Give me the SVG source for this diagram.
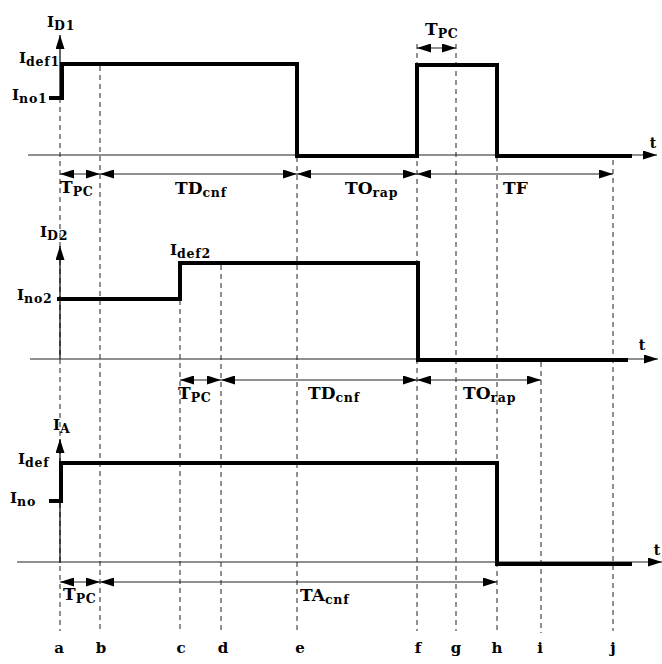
<svg xmlns="http://www.w3.org/2000/svg" width="662" height="664" viewBox="0 0 662 664">
<style>
  .lbl{font-family:"DejaVu Serif","Liberation Serif",serif;font-weight:bold;fill:#000}
  .big{font-size:17px}
  .mid{font-size:15px}
  .sub{font-size:12.5px;letter-spacing:0.8px}
  .tl{font-size:14px}
  .axis{stroke:#000;stroke-width:1.2;fill:none}
  .base{stroke:#222;stroke-width:1.1;fill:none}
  .wave{stroke:#000;stroke-width:4;fill:none;stroke-linejoin:miter;stroke-linecap:butt}
  .dash{stroke:#222;stroke-width:1;stroke-dasharray:5 4;fill:none}
  .dim{stroke:#222;stroke-width:1.1;fill:none;marker-start:url(#ah);marker-end:url(#ah)}
</style>
<defs>
  <marker id="ah" viewBox="0 0 14 9" refX="14" refY="4.5" markerWidth="14" markerHeight="9" markerUnits="userSpaceOnUse" orient="auto-start-reverse">
    <path d="M0,0 L14,4.5 L0,9 Z" fill="#000"/>
  </marker>
  <marker id="ax" viewBox="0 0 14 9" refX="14" refY="4.5" markerWidth="14" markerHeight="9" markerUnits="userSpaceOnUse" orient="auto">
    <path d="M0,0 L14,4.5 L0,9 Z" fill="#000"/>
  </marker>
</defs>

<g id="guides">
  <line class="dash" x1="60" y1="98" x2="60" y2="631"/>
  <line class="dash" x1="100" y1="66" x2="100" y2="631"/>
  <line class="dash" x1="180" y1="300" x2="180" y2="631"/>
  <line class="dash" x1="221" y1="265" x2="221" y2="631"/>
  <line class="dash" x1="297" y1="157" x2="297" y2="631"/>
  <line class="dash" x1="417" y1="44" x2="417" y2="631"/>
  <line class="dash" x1="456" y1="44" x2="456" y2="631"/>
  <line class="dash" x1="497" y1="157" x2="497" y2="631"/>
  <line class="dash" x1="541" y1="362" x2="541" y2="633"/>
  <line class="dash" x1="613" y1="160" x2="613" y2="631"/>
</g>

<g id="panel-ID1">
  <line class="axis" x1="60" y1="98" x2="60" y2="35" marker-end="url(#ax)"/>
  <line class="base" x1="28" y1="155" x2="657" y2="155" marker-end="url(#ax)"/>
  <path class="wave" d="M49,98 H62 V64 H297 V156 H417 V65 H497 V156 H632"/>
  <text class="lbl mid" x="47" y="27">I<tspan class="sub" dy="3">D1</tspan></text>
  <text class="lbl mid" x="19" y="63">I<tspan class="sub" dy="3">def1</tspan></text>
  <text class="lbl mid" x="12" y="100">I<tspan class="sub" dy="3">no1</tspan></text>
  <text class="lbl tl" x="653" y="148" text-anchor="middle">t</text>
</g>

<g id="panel-ID2">
  <line class="axis" x1="60" y1="359" x2="60" y2="246" marker-end="url(#ax)"/>
  <line class="base" x1="30" y1="359" x2="658" y2="359" marker-end="url(#ax)"/>
  <path class="wave" d="M57,299 H180 V263 H418 V360 H628"/>
  <text class="lbl mid" x="40" y="237">I<tspan class="sub" dy="3">D2</tspan></text>
  <text class="lbl mid" x="170" y="255">I<tspan class="sub" dy="3">def2</tspan></text>
  <text class="lbl mid" x="17" y="300">I<tspan class="sub" dy="3">no2</tspan></text>
  <text class="lbl tl" x="642" y="350" text-anchor="middle">t</text>
</g>

<g id="panel-IA">
  <line class="axis" x1="60" y1="563" x2="60" y2="439" marker-end="url(#ax)"/>
  <line class="base" x1="17" y1="562" x2="662" y2="562" marker-end="url(#ax)"/>
  <path class="wave" d="M49,501 H61 V463 H497 V564 H632"/>
  <text class="lbl mid" x="53" y="430">I<tspan class="sub" dy="3">A</tspan></text>
  <text class="lbl mid" x="18" y="464">I<tspan class="sub" dy="3">def</tspan></text>
  <text class="lbl mid" x="10" y="503">I<tspan class="sub" dy="3">no</tspan></text>
  <text class="lbl tl" x="657" y="555" text-anchor="middle">t</text>
</g>

<g id="connectors">
  <line class="dim" x1="417" y1="48" x2="456" y2="48"/>
  <line class="dim" x1="60" y1="174" x2="100" y2="174"/>
  <line class="dim" x1="100" y1="174" x2="297" y2="174"/>
  <line class="dim" x1="297" y1="174" x2="417" y2="174"/>
  <line class="dim" x1="417" y1="174" x2="613" y2="174"/>
  <line class="dim" x1="180" y1="380" x2="221" y2="380"/>
  <line class="dim" x1="221" y1="380" x2="417" y2="380"/>
  <line class="dim" x1="417" y1="380" x2="541" y2="380"/>
  <line class="dim" x1="60" y1="582" x2="100" y2="582"/>
  <line class="dim" x1="100" y1="582" x2="497" y2="582"/>
</g>

<g id="interval-labels">
  <text class="lbl big" x="425" y="35">T<tspan class="sub" dy="3">PC</tspan></text>
  <text class="lbl big" x="60" y="193">T<tspan class="sub" dy="3">PC</tspan></text>
  <text class="lbl big" x="175" y="194">TD<tspan class="sub" dy="3">cnf</tspan></text>
  <text class="lbl big" x="345" y="194">TO<tspan class="sub" dy="3">rap</tspan></text>
  <text class="lbl big" x="503" y="194">TF</text>
  <text class="lbl big" x="178" y="399">T<tspan class="sub" dy="3">PC</tspan></text>
  <text class="lbl big" x="308" y="399">TD<tspan class="sub" dy="3">cnf</tspan></text>
  <text class="lbl big" x="463" y="399">TO<tspan class="sub" dy="3">rap</tspan></text>
  <text class="lbl big" x="63" y="600">T<tspan class="sub" dy="3">PC</tspan></text>
  <text class="lbl big" x="300" y="601">TA<tspan class="sub" dy="3">cnf</tspan></text>
</g>

<g id="time-marks">
  <text class="lbl mid" x="59" y="653" text-anchor="middle">a</text>
  <text class="lbl mid" x="101" y="653" text-anchor="middle">b</text>
  <text class="lbl mid" x="181" y="653" text-anchor="middle">c</text>
  <text class="lbl mid" x="223" y="653" text-anchor="middle">d</text>
  <text class="lbl mid" x="300" y="653" text-anchor="middle">e</text>
  <text class="lbl mid" x="418" y="653" text-anchor="middle">f</text>
  <text class="lbl mid" x="456" y="653" text-anchor="middle">g</text>
  <text class="lbl mid" x="497" y="653" text-anchor="middle">h</text>
  <text class="lbl mid" x="540" y="653" text-anchor="middle">i</text>
  <text class="lbl mid" x="613" y="653" text-anchor="middle">j</text>
</g>
</svg>
